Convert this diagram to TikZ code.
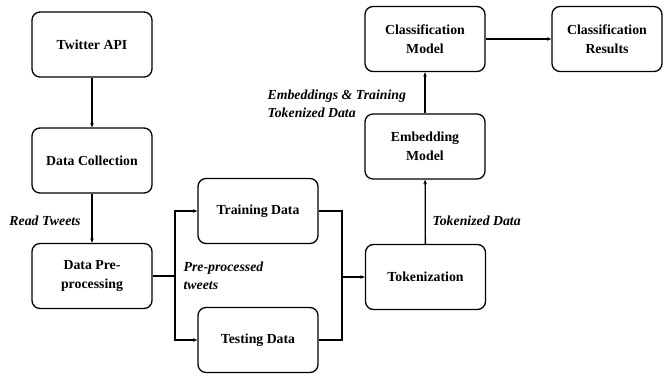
\documentclass[tikz,border=0pt]{standalone}
\usepackage{fontspec}
\setmainfont{Liberation Serif}
\usetikzlibrary{arrows.meta}
\def\boxwidth{120pt}
\def\boxheight{65pt}

\begin{document}
\begin{tikzpicture}[x=1pt,y=-1pt,line width=1.3pt,>={Stealth[length=4.5pt,width=3.5pt]}]
    \tikzstyle{stage}=[draw,rounded corners=8pt,minimum width=\boxwidth,minimum height=\boxheight,
        align=center,font=\bfseries\fontsize{13.8}{19}\selectfont,inner sep=2pt]
    \tikzstyle{annot}=[align=left,font=\bfseries\itshape\fontsize{13.8}{18.5}\selectfont,inner sep=0pt]

    \useasboundingbox (0,0) rectangle (665,373);

    % Draw the left column
    \node[stage] (api) at (92,44.5) {Twitter API};
    \node[stage] (coll) at (92,160.5) {Data Collection};
    \node[stage] (pre) at (92,276) {Data Pre-\\processing};

    % Draw the data split
    \node[stage] (train) at (258,211) {Training Data};
    \node[stage] (test) at (258,340) {Testing Data};

    % Draw the right column
    \node[stage] (tok) at (425.5,277) {Tokenization};
    \node[stage] (emb) at (425,146.5) {Embedding\\Model};
    \node[stage] (cls) at (425,39) {Classification\\Model};
    \node[stage,minimum width=110pt] (res) at (607,39) {Classification\\Results};

    % Connect the stages
    \draw[->] (api) -- (coll);
    \draw[->] (coll) -- (pre);
    \coordinate (split) at (175,276);
    \draw (pre.east) -- (split);
    \draw[->] (split) |- (train.west);
    \draw[->] (split) |- (test.west);
    \coordinate (join) at (342,277);
    \draw (train.east) -| (join);
    \draw (test.east) -| (join);
    \draw[->] (join) -- (tok.west);
    \draw[->] (tok) -- (emb);
    \draw[->] (emb) -- (cls);
    \draw[->] (cls) -- (res);

    % Annotate the connectors
    \node[annot] (read) at (45,221) {Read Tweets};
    \node[annot,anchor=west] (pretw) at (183,276) {Pre-processed\\tweets};
    \node[annot,anchor=west] (tokd) at (432,221) {Tokenized Data};
    \node[annot,anchor=west] (embd) at (267,104) {Embeddings \& Training\\Tokenized Data};
\end{tikzpicture}
\end{document}
